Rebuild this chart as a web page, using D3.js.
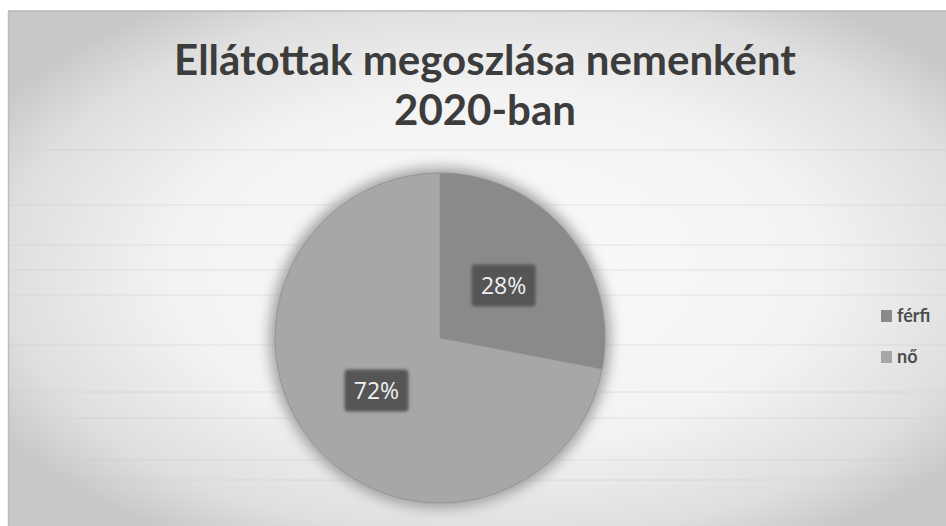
<!DOCTYPE html>
<html>
<head>
<meta charset="utf-8">
<script src="https://cdn.jsdelivr.net/npm/d3@7"></script>
<style>
  body { margin: 0; background: #fff; }
  svg { display: block; }
</style>
</head>
<body>
<script>
// chart data
const categories = ["férfi", "nő"];
const shares = [28, 72];
const sliceColors = ["#8a8a8a", "#a7a7a7"];
const titleLines = ["Ellátottak megoszlása nemenként", "2020-ban"];

const W = 946, H = 526;
const cx = 440, cy = 338, radius = 165;

const svg = d3.select("body").append("svg")
    .attr("width", W)
    .attr("height", H);

const defs = svg.append("defs");

// scanned-paper look: grey edges, light centre
const bg = defs.append("radialGradient")
    .attr("id", "paper")
    .attr("cx", "52%").attr("cy", "50%").attr("r", "62%");
bg.append("stop").attr("offset", "0%").attr("stop-color", "#fbfbfb");
bg.append("stop").attr("offset", "55%").attr("stop-color", "#f3f3f3");
bg.append("stop").attr("offset", "85%").attr("stop-color", "#dedede");
bg.append("stop").attr("offset", "100%").attr("stop-color", "#c8c8c8");

const blur = defs.append("filter").attr("id", "soft")
    .attr("x", "-20%").attr("y", "-20%").attr("width", "140%").attr("height", "140%");
blur.append("feGaussianBlur").attr("stdDeviation", 7);

const lblur = defs.append("filter").attr("id", "lsoft")
    .attr("x", "-20%").attr("y", "-20%").attr("width", "140%").attr("height", "140%");
lblur.append("feGaussianBlur").attr("stdDeviation", 1.5);

// chart frame
svg.append("rect")
    .attr("x", 8).attr("y", 11)
    .attr("width", W - 8).attr("height", H - 11)
    .attr("fill", "url(#paper)");
svg.append("line")
    .attr("x1", 8).attr("x2", W).attr("y1", 11).attr("y2", 11)
    .attr("stroke", "#b8b8b8").attr("stroke-width", 1.5);
svg.append("line")
    .attr("x1", 8.5).attr("x2", 8.5).attr("y1", 11).attr("y2", H)
    .attr("stroke", "#bdbdbd").attr("stroke-width", 1.5);

// faint scan lines
const scanLines = [150, 205, 245, 270, 295, 345, 392, 418, 460, 480];
svg.append("g").selectAll("line")
    .data(scanLines)
    .join("line")
    .attr("x1", 10).attr("x2", W)
    .attr("y1", d => d).attr("y2", d => d)
    .attr("stroke", "#c8c8c8").attr("stroke-width", 0.8)
    .attr("opacity", 0.55);

// title
svg.append("g").selectAll("text")
    .data(titleLines)
    .join("text")
    .attr("x", 485)
    .attr("y", (d, i) => 75 + i * 50)
    .attr("text-anchor", "middle")
    .attr("font-family", "Lato, 'Open Sans', sans-serif")
    .attr("font-weight", "bold")
    .attr("font-size", 42)
    .attr("fill", "#3c3c3c")
    .text(d => d);

// pie
const pie = d3.pie().sort(null).value(d => d);
const arc = d3.arc().innerRadius(0).outerRadius(radius);
const labelArc = d3.arc().innerRadius(radius * 0.5).outerRadius(radius * 0.5);
const arcs = pie(shares);

const g = svg.append("g").attr("transform", `translate(${cx},${cy})`);

g.append("circle")
    .attr("r", radius + 5)
    .attr("fill", "#9c9c9c")
    .attr("filter", "url(#soft)");

g.selectAll("path.slice")
    .data(arcs)
    .join("path")
    .attr("class", "slice")
    .attr("d", arc)
    .attr("fill", (d, i) => sliceColors[i])
    .attr("stroke", "#8f8f8f")
    .attr("stroke-width", 0.8);

// data labels in dark boxes
const labels = g.selectAll("g.lbl")
    .data(arcs)
    .join("g")
    .attr("class", "lbl")
    .attr("transform", d => `translate(${labelArc.centroid(d)})`);

labels.append("rect")
    .attr("x", -32).attr("y", -21)
    .attr("width", 64).attr("height", 42)
    .attr("rx", 4)
    .attr("fill", "#555")
    .attr("filter", "url(#lsoft)");

labels.append("text")
    .attr("text-anchor", "middle")
    .attr("dy", "0.36em")
    .attr("font-family", "'Open Sans', sans-serif")
    .attr("font-size", 23)
    .attr("fill", "#f0f0f0")
    .text(d => d.data + "%");

// legend
const legend = svg.append("g")
    .attr("transform", "translate(881,316)");

const items = legend.selectAll("g")
    .data(categories)
    .join("g")
    .attr("transform", (d, i) => `translate(0,${i * 41})`);

items.append("rect")
    .attr("x", 0).attr("y", -6)
    .attr("width", 11).attr("height", 12)
    .attr("fill", (d, i) => sliceColors[i]);

items.append("text")
    .attr("x", 16)
    .attr("dy", "0.35em")
    .attr("font-family", "Lato, sans-serif")
    .attr("font-weight", "bold")
    .attr("font-size", 18)
    .attr("fill", "#4d4d4d")
    .text(d => d);
</script>
</body>
</html>
